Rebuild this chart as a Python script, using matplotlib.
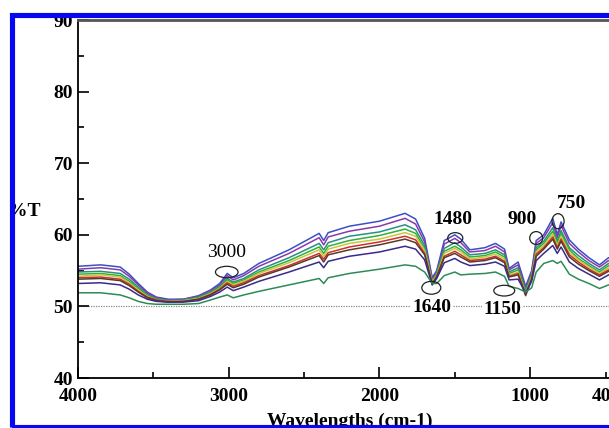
import matplotlib
matplotlib.use("Agg")
import matplotlib.pyplot as plt
from matplotlib.patches import Ellipse, Rectangle

plt.rcParams['font.family'] = 'serif'
plt.rcParams['font.serif'] = ['Liberation Serif', 'DejaVu Serif']
plt.rcParams['font.weight'] = 'bold'

# wavenumbers (cm-1)
wn = [4000, 3850, 3720, 3660, 3600, 3540, 3480, 3400, 3300, 3200, 3120, 3060,
      3010, 2970, 2900, 2800, 2600, 2400, 2370, 2340, 2200, 2000, 1830, 1760,
      1700, 1650, 1620, 1570, 1500, 1460, 1400, 1300, 1230, 1170, 1140, 1080,
      1030, 990, 960, 910, 850, 820, 795, 740, 680, 610, 540, 480, 400]

# %T spectra, top to bottom
s1 = [55.6, 55.8, 55.5, 54.5, 53.2, 52.0, 51.3, 51.0, 51.0, 51.5, 52.3, 53.2,
      54.6, 54.0, 54.6, 56.0, 57.9, 60.2, 59.2, 60.3, 61.2, 61.9, 63.0, 62.2,
      59.5, 54.0, 55.0, 59.2, 60.0, 59.4, 57.9, 58.2, 58.8, 58.0, 55.3, 56.2,
      52.8, 55.0, 59.2, 60.0, 62.3, 60.0, 61.8, 59.3, 58.0, 56.8, 55.8, 56.8, 56.0]
s2 = [55.2, 55.4, 55.1, 54.2, 53.0, 51.8, 51.2, 50.9, 51.0, 51.4, 52.2, 53.0,
      54.3, 53.7, 54.3, 55.6, 57.4, 59.6, 58.6, 59.7, 60.5, 61.2, 62.3, 61.5,
      59.0, 53.8, 54.8, 58.7, 59.5, 58.9, 57.6, 57.8, 58.4, 57.6, 55.1, 55.8,
      52.5, 54.8, 58.8, 59.6, 61.7, 59.6, 61.3, 58.8, 57.6, 56.4, 55.5, 56.4, 55.7]
s3 = [54.8, 54.9, 54.6, 53.8, 52.7, 51.6, 51.1, 50.8, 50.9, 51.3, 52.0, 52.8,
      53.9, 53.4, 53.9, 55.1, 56.8, 58.8, 57.9, 58.9, 59.8, 60.4, 61.4, 60.7,
      58.5, 53.6, 54.6, 58.1, 58.9, 58.3, 57.2, 57.4, 57.9, 57.2, 54.8, 55.4,
      52.3, 54.5, 58.2, 59.1, 61.0, 59.1, 60.6, 58.2, 57.1, 56.0, 55.1, 56.0, 55.3]
s4 = [54.5, 54.6, 54.3, 53.5, 52.5, 51.5, 51.0, 50.8, 50.8, 51.2, 51.9, 52.6,
      53.7, 53.2, 53.7, 54.8, 56.4, 58.3, 57.4, 58.4, 59.2, 59.9, 60.8, 60.2,
      58.1, 53.5, 54.5, 57.7, 58.4, 57.9, 56.9, 57.1, 57.6, 56.9, 54.6, 55.1,
      52.0, 54.3, 57.9, 58.8, 60.5, 58.8, 60.2, 57.9, 56.7, 55.7, 54.8, 55.7, 55.0]
s5 = [54.2, 54.4, 54.1, 53.3, 52.3, 51.4, 50.9, 50.7, 50.8, 51.1, 51.8, 52.5,
      53.5, 53.0, 53.5, 54.6, 56.1, 57.9, 57.0, 58.0, 58.8, 59.4, 60.3, 59.8,
      57.8, 53.4, 54.3, 57.4, 58.1, 57.6, 56.6, 56.9, 57.3, 56.6, 54.4, 54.8,
      51.8, 54.1, 57.6, 58.5, 60.1, 58.5, 59.8, 57.5, 56.5, 55.5, 54.6, 55.4, 54.7]
s6 = [54.0, 54.1, 53.8, 53.1, 52.1, 51.3, 50.9, 50.7, 50.7, 51.0, 51.7, 52.4,
      53.3, 52.8, 53.3, 54.3, 55.7, 57.4, 56.6, 57.5, 58.3, 59.0, 59.8, 59.3,
      57.4, 53.2, 54.2, 57.0, 57.7, 57.2, 56.4, 56.6, 57.0, 56.3, 54.2, 54.6,
      51.7, 53.9, 57.3, 58.2, 59.7, 58.2, 59.4, 57.2, 56.2, 55.2, 54.4, 55.1, 54.5]
s7 = [53.8, 53.9, 53.6, 52.9, 52.0, 51.2, 50.8, 50.6, 50.7, 51.0, 51.6, 52.3,
      53.1, 52.6, 53.1, 54.1, 55.5, 57.1, 56.2, 57.2, 57.9, 58.6, 59.4, 58.9,
      57.2, 53.1, 54.1, 56.8, 57.4, 56.9, 56.2, 56.4, 56.8, 56.1, 54.1, 54.4,
      51.5, 53.8, 57.0, 58.0, 59.4, 58.0, 59.1, 56.9, 55.9, 55.0, 54.2, 54.9, 54.3]
s8 = [53.2, 53.3, 53.0, 52.4, 51.6, 51.0, 50.7, 50.6, 50.6, 50.8, 51.4, 52.0,
      52.7, 52.2, 52.7, 53.5, 54.8, 56.2, 55.4, 56.3, 57.0, 57.6, 58.4, 58.0,
      56.5, 53.0, 53.9, 56.1, 56.7, 56.2, 55.7, 55.9, 56.2, 55.6, 53.7, 53.8,
      51.9, 53.5, 56.4, 57.4, 58.5, 57.4, 58.3, 56.2, 55.3, 54.5, 53.7, 54.4, 53.8]
s9 = [51.9, 51.9, 51.6, 51.2, 50.7, 50.4, 50.3, 50.3, 50.3, 50.4, 50.9, 51.3,
      51.6, 51.2, 51.6, 52.1, 53.0, 53.9, 53.2, 54.0, 54.6, 55.2, 55.8, 55.6,
      54.8, 53.2, 53.2, 54.3, 54.8, 54.4, 54.5, 54.6, 54.8, 54.2, 52.8, 52.5,
      52.0, 52.6, 54.8, 56.0, 56.4, 56.0, 56.3, 54.5, 53.8, 53.2, 52.5, 53.0, 52.6]

series = [s1, s2, s3, s4, s5, s6, s7, s8, s9]
colors = ['#3b4fc8', '#8a3aa8', '#2b8f80', '#30b040', '#c8c83a',
          '#d0302a', '#5a3a2a', '#3a2a8a', '#2e8b57']

# peak labels: text, text position, ellipse centre and size
peak_labels = ['3000', '1480', '900', '750', '1640', '1150']
label_xy = [(3013, 57.5), (1510, 62.2), (1053, 62.1), (729, 64.4), (1649, 49.8), (1185, 49.6)]
ellipse_xy = [(3013, 54.8), (1497, 59.55), (960, 59.55), (815, 61.9), (1656, 52.6), (1172, 52.2)]
ellipse_wh = [(150, 1.6), (100, 1.5), (86, 1.8), (80, 2.1), (126, 1.8), (139, 1.5)]

fig = plt.figure(figsize=(6.09, 4.28), dpi=100)
ax = fig.add_axes([78 / 609, 1 - 378 / 428, 542.6 / 609, 358 / 428])

ax.axhline(50, color='#888888', lw=0.9, ls=(0, (1, 1)), zorder=1)
for s, c in zip(series, colors):
    ax.plot(wn, s, color=c, lw=1.1, zorder=2)

for txt, (tx, ty), (ex, ey), (ew, eh) in zip(peak_labels, label_xy, ellipse_xy, ellipse_wh):
    ax.add_patch(Ellipse((ex, ey), ew, eh, fill=False, edgecolor='#222222', lw=0.9, zorder=3))
    box = dict(facecolor='white', edgecolor='none', pad=1) if ty < 51 else None
    ax.text(tx, ty, txt, ha='center', va='center', fontsize=14,
            fontweight='normal' if txt == '3000' else 'bold', bbox=box, zorder=4)

ax.set_xlim(4000, 400)
ax.set_ylim(40, 90)
ax.set_xticks([4000, 3000, 2000, 1000, 400])
ax.set_xticks([3500, 2500, 1500, 500], minor=True)
ax.set_yticks([40, 50, 60, 70, 80, 90])
ax.set_yticks([45, 55, 65, 75, 85], minor=True)
ax.tick_params(which='both', direction='in', labelsize=14, width=1.2)
ax.tick_params(which='major', length=8)
ax.tick_params(which='minor', length=4)
ax.tick_params(axis='x', pad=7)
ax.xaxis.get_majorticklabels()[-1].set_ha('right')
for sp in ax.spines.values():
    sp.set_linewidth(1.3)
ax.spines['top'].set_color('#555555')
ax.spines['top'].set_linewidth(2)

fig.text(24 / 609, 1 - 212 / 428, '%T', ha='center', va='center', fontsize=14)
fig.text(350 / 609, 1 - 413 / 428, 'Wavelengths (cm-1)', ha='center', va='top', fontsize=14)

# blue frame round the picture
fig.patches.append(Rectangle((11.5 / 609, 1 - 426.5 / 428), 1.2, (426.5 - 14.5) / 428,
                             transform=fig.transFigure, fill=False, edgecolor='#0808f0',
                             lw=3.7, zorder=10))

plt.savefig('out.png', dpi=100)
